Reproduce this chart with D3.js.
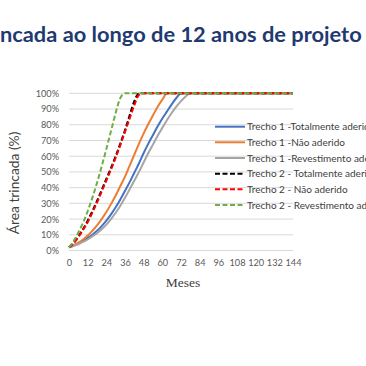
<!DOCTYPE html>
<html><head><meta charset="utf-8">
<script src="https://cdn.jsdelivr.net/npm/d3@7"></script>
<style>html,body{margin:0;padding:0;background:#fff;overflow:hidden}</style>
</head><body>
<svg id="c" width="366" height="366"></svg>
<script>
const titlePrefix = "Área tri";
const titleText = "Área trincada ao longo de 12 anos de projeto";
const xTitle = "Meses";
const yTitle = "Área trincada (%)";
const months = d3.range(0, 145, 3);
const xTicks = [0,12,24,36,48,60,72,84,96,108,120,132,144];
const yTicks = [0,10,20,30,40,50,60,70,80,90,100];
const seriesNames = ["Trecho 1 -Totalmente aderido","Trecho 1 -Não aderido","Trecho 1 -Revestimento aderido","Trecho 2 - Totalmente aderido","Trecho 2 - Não aderido","Trecho 2 - Revestimento aderido"];
const seriesColors = ["#4472C4","#ED7D31","#A5A5A5","#000000","#FF0000","#70AD47"];
const seriesDashed = [false,false,false,true,true,true];
const t1Total = [2,3,4.5,6,8,10,12.5,15.5,19,23,27.5,32.5,38,43.5,49.5,55.5,62,68,73.5,79,84,88.5,93,97,100];
const t1Nao   = [2,3.5,5,7,9.5,12.5,16,20,24.5,29.5,35,41,47,54,61,68,74.5,80.5,86,91.5,96,100];
const t1Rev   = [2,3,4,5.5,7,9,11,13.5,16.5,20,24,28.5,33.5,39,44.5,50,56,62,67.5,73,78,83,87.5,91.5,95,98,100];
const t2Total = [2,5,9,13.5,19,25,31.5,38.5,45.5,52.5,60,68,76.5,86,95,100];
const t2Nao   = [2,4.5,8.5,13,18,24,30.5,37.5,44.5,51.5,59,67,75.5,84,92.5,99,100];
const t2Rev   = [2,6,11.5,17.5,25,33.5,43,53.5,64.5,76,87.5,97,100];
const rawSeries = [t1Total,t1Nao,t1Rev,t2Total,t2Nao,t2Rev];

const svg = d3.select("#c");
const x = d3.scaleLinear().domain([0,144]).range([69,293]);
const y = d3.scaleLinear().domain([0,100]).range([250.5,93.3]);
const sans = "Lato, 'Open Sans', sans-serif";

// title: full text, positioned so the visible part matches the reference crop
const tg = svg.append("g");
const tt = tg.append("text").attr("x",0).attr("y",0)
  .attr("font-family",sans).attr("font-weight","bold")
  .attr("font-size",20.5).attr("fill","#1F3A70").text(titleText);
const node = tt.node();
const full = node.getComputedTextLength();
const pre = node.getSubStringLength(0, titlePrefix.length);
const sx = 362 / (full - pre);
tg.attr("transform",`translate(${-pre*sx},42) scale(${sx},1)`);

// gridlines
svg.append("g").selectAll("line").data(yTicks).join("line")
  .attr("x1",x(0)).attr("x2",x(144)).attr("y1",d=>y(d)).attr("y2",d=>y(d))
  .attr("stroke","#d9d9d9").attr("stroke-width",1);

// y axis labels
const yAxis = d3.axisLeft(y).tickValues(yTicks).tickFormat(d=>d+"%").tickSize(0).tickPadding(0);
const gy = svg.append("g").attr("transform","translate(59,0)").call(yAxis);
gy.select(".domain").remove();
gy.selectAll("text").attr("font-family",sans).attr("font-size",9.2).attr("fill","#595959");

// x axis labels
const xAxis = d3.axisBottom(x).tickValues(xTicks).tickSize(0).tickPadding(0);
const gx = svg.append("g").attr("transform","translate(0,259)").call(xAxis);
gx.select(".domain").remove();
gx.selectAll("text").attr("font-family",sans).attr("font-size",9.2).attr("fill","#595959");

// axis titles
svg.append("text").attr("x",183).attr("y",287).attr("text-anchor","middle")
  .attr("font-family","'Liberation Serif', 'DejaVu Serif', serif").attr("font-size",13.5).attr("fill","#404040").text(xTitle);
svg.append("text").attr("transform","translate(19,183) rotate(-90)").attr("text-anchor","middle")
  .attr("font-family",sans).attr("font-size",13.8).attr("fill","#404040").text(yTitle);

// lines
const line = d3.line().x(d=>x(d[0])).y(d=>y(d[1])).curve(d3.curveMonotoneX);
rawSeries.forEach((vals,i)=>{
  const pts = months.map((m,j)=>[m, j<vals.length ? vals[j] : 100]);
  svg.append("path").datum(pts).attr("d",line).attr("fill","none")
    .attr("stroke",seriesColors[i]).attr("stroke-width",2)
    .attr("stroke-dasharray",seriesDashed[i]?"5,2.5":null);
});

// legend
const legY = [126.7,142.3,158,173.7,189.3,205];
const lg = svg.append("g");
seriesNames.forEach((n,i)=>{
  lg.append("line").attr("x1",215).attr("x2",245).attr("y1",legY[i]).attr("y2",legY[i])
    .attr("stroke",seriesColors[i]).attr("stroke-width",2)
    .attr("stroke-dasharray",seriesDashed[i]?"5,2.5":null);
  lg.append("text").attr("x",247).attr("y",legY[i]).attr("dy","0.35em")
    .attr("font-family",sans).attr("font-size",10).attr("fill","#404040").text(n);
});
</script>
</body></html>
